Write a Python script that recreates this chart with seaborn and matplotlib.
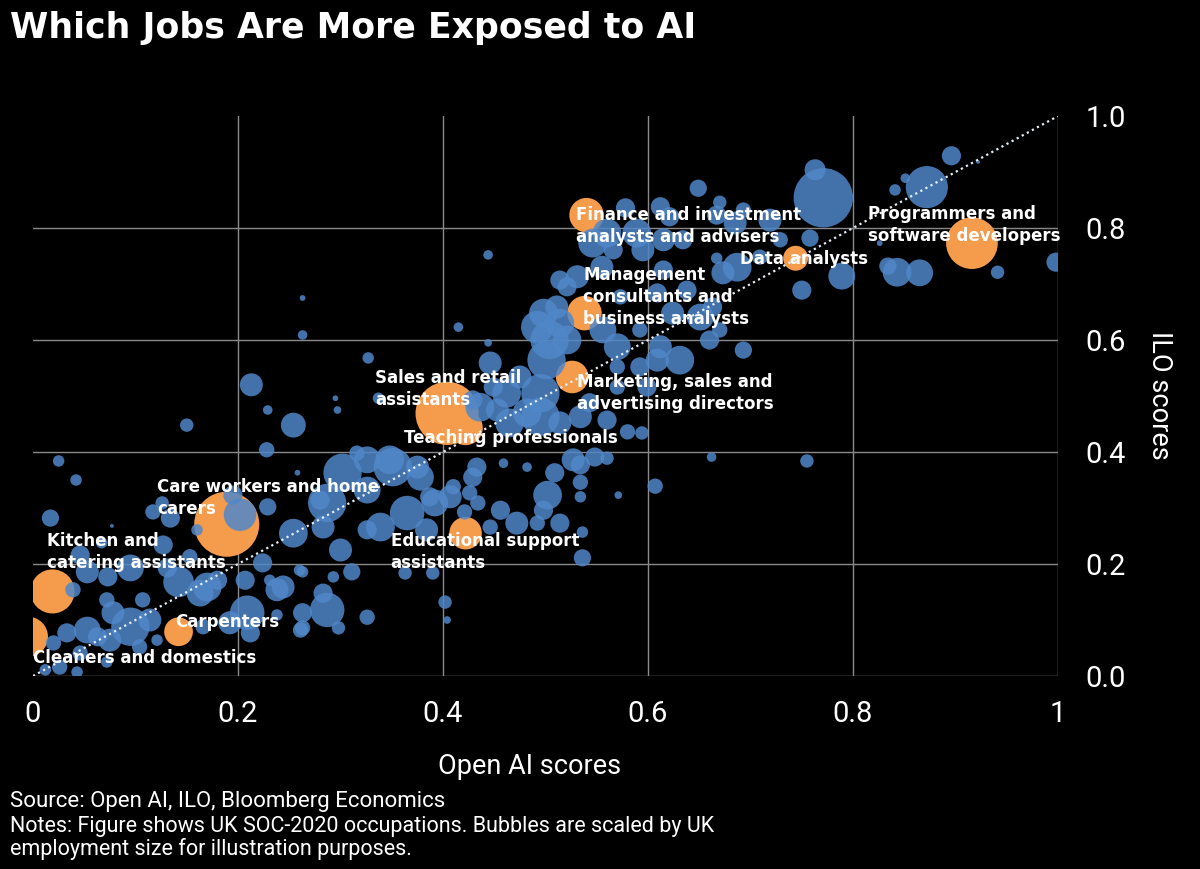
import matplotlib.pyplot as plt
import seaborn as sns
import numpy as np
import pandas as pd

# highlighted occupations (orange)
hl_names = ["Finance and investment\nanalysts and advisers",
            "Programmers and\nsoftware developers",
            "Data analysts",
            "Management\nconsultants and\nbusiness analysts",
            "Marketing, sales and\nadvertising directors",
            "Sales and retail\nassistants",
            "Teaching professionals",
            "Care workers and home\ncarers",
            "Kitchen and\ncatering assistants",
            "Cleaners and domestics",
            "Carpenters",
            "Educational support\nassistants"]
hl_x = [0.540, 0.916, 0.744, 0.538, 0.526, 0.404, 0.422, 0.189, 0.019, -0.005, 0.142, 0.422]
hl_y = [0.823, 0.773, 0.746, 0.648, 0.534, 0.469, 0.443, 0.271, 0.151, 0.070, 0.079, 0.255]
hl_emp = [324, 729, 169, 324, 289, 1089, 324, 1156, 529, 441, 225, 289]

# all other occupations (blue)
blue_x = [0.763, 0.771, 0.872, 0.896, 0.841, 0.851, 0.922, 0.843, 0.865, 0.834,
          0.941, 0.998, 0.826, 0.789, 0.750, 0.758, 0.729, 0.719, 0.709, 0.687,
          0.673, 0.667, 0.685, 0.667, 0.649, 0.670, 0.693, 0.621, 0.612, 0.578,
          0.634, 0.615, 0.638, 0.693, 0.560, 0.589, 0.615, 0.546, 0.566, 0.595,
          0.444, 0.531, 0.555, 0.514, 0.521, 0.498, 0.492, 0.511, 0.504, 0.521,
          0.501, 0.514, 0.556, 0.570, 0.592, 0.624, 0.651, 0.670, 0.663, 0.609,
          0.573, 0.612, 0.631, 0.592, 0.599, 0.415, 0.444, 0.446, 0.475, 0.495,
          0.462, 0.453, 0.495, 0.465, 0.543, 0.560, 0.534, 0.514, 0.594, 0.570,
          0.570, 0.429, 0.449, 0.660, 0.609, 0.482, 0.433, 0.459, 0.482, 0.410,
          0.429, 0.392, 0.426, 0.434, 0.421, 0.456, 0.472, 0.446, 0.492, 0.502,
          0.498, 0.514, 0.509, 0.534, 0.534, 0.536, 0.536, 0.534, 0.527, 0.548,
          0.560, 0.571, 0.607, 0.662, 0.580, 0.402, 0.404, 0.363, 0.390, 0.755,
          0.375, 0.436, 0.327, 0.263, 0.263, 0.213, 0.295, 0.297, 0.337, 0.229,
          0.254, 0.228, 0.150, 0.025, 0.042, 0.017, 0.077, 0.316, 0.302, 0.351,
          0.326, 0.287, 0.254, 0.283, 0.280, 0.229, 0.202, 0.195, 0.339, 0.365,
          0.384, 0.326, 0.300, 0.311, 0.293, 0.263, 0.231, 0.238, 0.207, 0.283,
          0.287, 0.263, 0.326, 0.298, 0.263, 0.238, 0.209, 0.212, 0.163, 0.387,
          0.378, 0.348, 0.326, 0.117, 0.126, 0.134, 0.160, 0.046, 0.067, 0.127,
          0.153, 0.095, 0.073, 0.053, 0.039, 0.131, 0.142, 0.170, 0.180, 0.224,
          0.244, 0.260, 0.192, 0.095, 0.114, 0.053, 0.033, 0.078, 0.107, 0.072,
          0.063, 0.020, 0.046, 0.075, 0.104, 0.121, 0.166, 0.261, 0.026, 0.072,
          0.043, 0.012, 0.407, 0.258]
blue_y = [0.904, 0.854, 0.873, 0.929, 0.868, 0.889, 0.918, 0.721, 0.720, 0.732,
          0.721, 0.739, 0.773, 0.714, 0.689, 0.782, 0.779, 0.814, 0.748, 0.730,
          0.720, 0.746, 0.809, 0.823, 0.871, 0.846, 0.832, 0.820, 0.838, 0.836,
          0.779, 0.725, 0.689, 0.582, 0.791, 0.791, 0.779, 0.773, 0.761, 0.761,
          0.752, 0.713, 0.730, 0.707, 0.695, 0.648, 0.623, 0.659, 0.600, 0.600,
          0.564, 0.630, 0.618, 0.588, 0.618, 0.648, 0.641, 0.618, 0.659, 0.684,
          0.677, 0.588, 0.564, 0.552, 0.516, 0.623, 0.595, 0.559, 0.534, 0.505,
          0.505, 0.475, 0.463, 0.452, 0.488, 0.457, 0.463, 0.452, 0.434, 0.516,
          0.552, 0.493, 0.516, 0.600, 0.564, 0.470, 0.373, 0.380, 0.373, 0.338,
          0.355, 0.309, 0.327, 0.309, 0.293, 0.296, 0.273, 0.266, 0.273, 0.323,
          0.296, 0.273, 0.363, 0.346, 0.320, 0.257, 0.211, 0.377, 0.386, 0.391,
          0.389, 0.323, 0.339, 0.391, 0.436, 0.132, 0.100, 0.184, 0.184, 0.384,
          0.373, 0.480, 0.568, 0.675, 0.609, 0.520, 0.496, 0.475, 0.496, 0.475,
          0.448, 0.404, 0.448, 0.384, 0.350, 0.282, 0.268, 0.398, 0.363, 0.373,
          0.332, 0.309, 0.255, 0.266, 0.314, 0.302, 0.288, 0.323, 0.266, 0.291,
          0.261, 0.261, 0.225, 0.186, 0.177, 0.186, 0.171, 0.154, 0.171, 0.148,
          0.118, 0.113, 0.105, 0.086, 0.086, 0.109, 0.113, 0.077, 0.148, 0.320,
          0.355, 0.386, 0.386, 0.293, 0.309, 0.282, 0.261, 0.216, 0.238, 0.234,
          0.213, 0.193, 0.177, 0.186, 0.154, 0.193, 0.168, 0.159, 0.171, 0.202,
          0.159, 0.189, 0.095, 0.088, 0.100, 0.082, 0.077, 0.113, 0.136, 0.136,
          0.070, 0.059, 0.041, 0.064, 0.052, 0.064, 0.088, 0.082, 0.016, 0.025,
          0.007, 0.011, 0.320, 0.363]
blue_emp = [121, 961, 484, 100, 36, 25, 4, 225, 196, 81,
            49, 100, 9, 196, 100, 81, 64, 144, 64, 225,
            144, 36, 144, 100, 81, 49, 64, 100, 100, 100,
            100, 100, 100, 81, 225, 225, 144, 225, 100, 144,
            25, 144, 144, 100, 100, 225, 289, 144, 400, 225,
            400, 225, 196, 196, 64, 144, 196, 64, 100, 100,
            64, 144, 225, 100, 100, 25, 16, 144, 144, 400,
            225, 144, 400, 225, 100, 100, 144, 144, 49, 64,
            64, 100, 100, 100, 144, 225, 100, 25, 25, 64,
            100, 196, 64, 64, 64, 100, 144, 64, 64, 225,
            100, 100, 100, 64, 36, 36, 81, 100, 144, 100,
            49, 16, 64, 25, 64, 49, 16, 49, 49, 49,
            144, 225, 36, 9, 25, 144, 9, 16, 36, 25,
            169, 64, 49, 36, 36, 81, 4, 64, 400, 400,
            196, 400, 225, 144, 100, 81, 289, 100, 225, 324,
            144, 100, 144, 81, 36, 36, 36, 144, 100, 100,
            324, 100, 64, 49, 64, 36, 324, 100, 196, 100,
            196, 225, 196, 64, 49, 100, 36, 100, 36, 100,
            64, 196, 100, 144, 64, 100, 256, 225, 100, 100,
            144, 36, 144, 400, 144, 196, 100, 144, 64, 64,
            100, 64, 64, 144, 64, 36, 64, 64, 64, 36,
            36, 36, 144, 9]

# where the occupation names sit (left edge, vertical centre)
label_x = [0.530, 0.815, 0.690, 0.537, 0.531, 0.334, 0.362, 0.121, 0.014, 0.000, 0.139, 0.349]
label_y = [0.804, 0.805, 0.745, 0.677, 0.506, 0.513, 0.425, 0.318, 0.221, 0.032, 0.096, 0.221]

BLUE = "#5087c9"
ORANGE = "#f59b4c"
AXFONT = ["Roboto", "DejaVu Sans"]

df_blue = pd.DataFrame({"openai": blue_x, "ilo": blue_y, "employment": blue_emp})
df_hl = pd.DataFrame({"job": hl_names, "openai": hl_x, "ilo": hl_y, "employment": hl_emp})

size_norm = (0, 1200)
sizes = (0, 1.9 * 1200)

fig = plt.figure(figsize=(12, 8.69), dpi=100, facecolor="black")
ax = fig.add_axes([0.0275, 0.2221, 0.8542, 0.6444], facecolor="black")

sns.scatterplot(data=df_hl, x="openai", y="ilo", size="employment", size_norm=size_norm,
                sizes=sizes, color=ORANGE, linewidth=0, alpha=1, legend=False, ax=ax, zorder=2)
sns.scatterplot(data=df_blue, x="openai", y="ilo", size="employment", size_norm=size_norm,
                sizes=sizes, color=BLUE, linewidth=0, alpha=0.85, legend=False, ax=ax, zorder=3)

ax.axline((0, 0), slope=1, color="#e6eef8", linestyle=(0, (1, 1.6)), linewidth=1.6, zorder=4)

for name, lx, ly in zip(hl_names, label_x, label_y):
    ax.text(lx, ly, name, color="white", fontsize=12, fontweight="bold",
            ha="left", va="center", linespacing=1.29, zorder=6)

ax.set_xlim(0, 1)
ax.set_ylim(0, 1)
ticks = np.round(np.arange(0, 1.01, 0.2), 1)
ax.set_xticks(ticks)
ax.set_xticklabels(["0", "0.2", "0.4", "0.6", "0.8", "1"])
ax.set_yticks(ticks)
ax.set_yticklabels(["0.0", "0.2", "0.4", "0.6", "0.8", "1.0"])
ax.yaxis.tick_right()
ax.tick_params(axis="both", length=0, colors="white", labelsize=21)
ax.tick_params(axis="x", pad=17)
ax.tick_params(axis="y", pad=20)
for lbl in ax.get_xticklabels() + ax.get_yticklabels():
    lbl.set_fontfamily(AXFONT)
ax.set_xlabel("")
ax.set_ylabel("")
for sp in ax.spines.values():
    sp.set_visible(False)
ax.grid(True, color="#8a8a8a", linewidth=1)
ax.set_axisbelow(True)
ax.xaxis.get_gridlines()[0].set_visible(False)
ax.yaxis.get_gridlines()[-1].set_visible(False)

fig.text(10 / 1200, 1 - 28 / 869, "Which Jobs Are More Exposed to AI", color="white",
         fontsize=25, fontweight="bold", ha="left", va="center")
fig.text(530 / 1200, 1 - 766 / 869, "Open AI scores", color="white", fontsize=19.5,
         family=AXFONT, ha="center", va="center")
fig.text(1160 / 1200, 1 - 395 / 869, "ILO scores", color="white", fontsize=19.5,
         family=AXFONT, rotation=270, ha="center", va="center")
fig.text(10 / 1200, 1 - 801 / 869, "Source: Open AI, ILO, Bloomberg Economics",
         color="white", fontsize=16, family=AXFONT, ha="left", va="center")
fig.text(10 / 1200, 1 - 838 / 869,
         "Notes: Figure shows UK SOC-2020 occupations. Bubbles are scaled by UK\n"
         "employment size for illustration purposes.",
         color="white", fontsize=15.5, family=AXFONT, ha="left", va="center", linespacing=1.05)

fig.savefig("out.png", dpi=100, facecolor="black")
